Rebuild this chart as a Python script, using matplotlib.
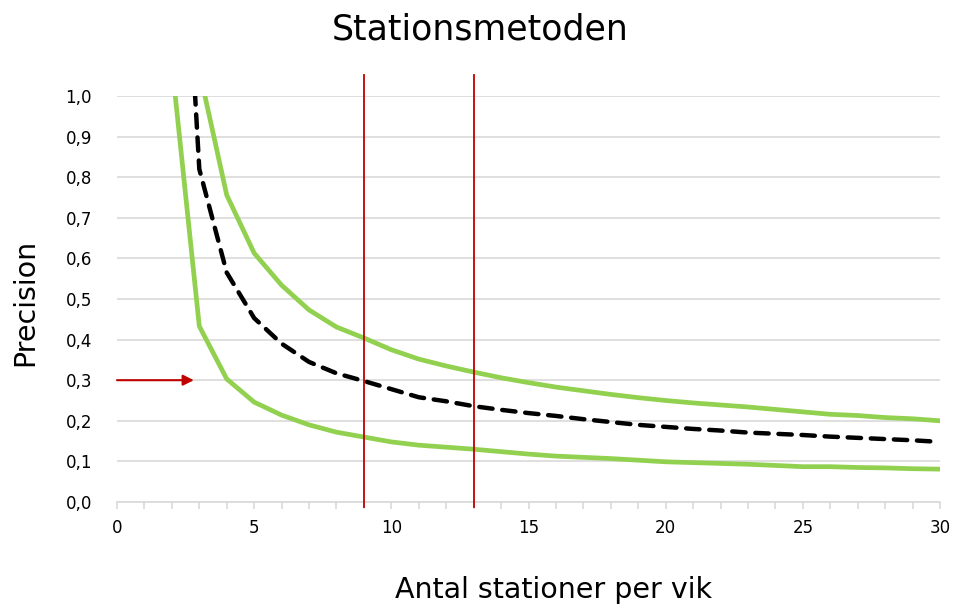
import matplotlib
matplotlib.use("Agg")
import matplotlib.pyplot as plt
from matplotlib.ticker import MultipleLocator, FuncFormatter

# Data
x_lower = [2, 3, 4, 5, 6, 7, 8, 9, 10, 11, 12, 13, 14, 15, 16, 17, 18, 19, 20,
           21, 22, 23, 24, 25, 26, 27, 28, 29, 30]
lower = [1.08, 0.433, 0.303, 0.246, 0.214, 0.19, 0.172, 0.16, 0.148, 0.14, 0.135,
         0.13, 0.124, 0.118, 0.113, 0.11, 0.107, 0.103, 0.099, 0.097, 0.095,
         0.093, 0.09, 0.087, 0.087, 0.085, 0.084, 0.082, 0.081]
x_upper = [3, 4, 5, 6, 7, 8, 9, 10, 11, 12, 13, 14, 15, 16, 17, 18, 19, 20,
           21, 22, 23, 24, 25, 26, 27, 28, 29, 30]
upper = [1.063, 0.756, 0.613, 0.534, 0.473, 0.431, 0.404, 0.375, 0.352, 0.335,
         0.32, 0.306, 0.294, 0.283, 0.274, 0.265, 0.257, 0.25, 0.244, 0.239,
         0.234, 0.228, 0.222, 0.216, 0.213, 0.208, 0.205, 0.2]
x_mean = [2, 3, 4, 5, 6, 7, 8, 9, 10, 11, 12, 13, 14, 15, 16, 17, 18, 19, 20,
          21, 22, 23, 24, 25, 26, 27, 28, 29, 30]
mean = [2.0, 0.82, 0.565, 0.453, 0.39, 0.345, 0.317, 0.298, 0.278, 0.258, 0.248,
        0.236, 0.227, 0.219, 0.212, 0.204, 0.197, 0.19, 0.185, 0.18, 0.176,
        0.171, 0.168, 0.165, 0.161, 0.158, 0.155, 0.152, 0.148]
vlines_x = [9, 13]
arrow_y = 0.3
arrow_x_end = 2.8

title = "Stationsmetoden"
xlabel = "Antal stationer per vik"
ylabel = "Precision"

plt.rcParams['font.family'] = ['DejaVu Sans']

fig = plt.figure(figsize=(9.55, 6.08), dpi=100)
ax = fig.add_axes([117/955, 1-502/608, (940-117)/955, (502-96)/608])

green = '#92D050'
ax.plot(x_lower, lower, color=green, lw=3.4, zorder=3, solid_joinstyle='round')
ax.plot(x_upper, upper, color=green, lw=3.4, zorder=3, solid_joinstyle='round')
ax.plot(x_mean, mean, color='black', lw=3.2, zorder=4, dashes=(3.0, 2.2),
        dash_capstyle='round')

for xv in vlines_x:
    ax.plot([xv, xv], [-0.013, 1.052], color='#C00000', lw=1.3, clip_on=False, zorder=5)

ax.annotate('', xy=(arrow_x_end, arrow_y), xytext=(0, arrow_y),
            arrowprops=dict(arrowstyle='-|>', color='#C00000', lw=1.5,
                            mutation_scale=16, shrinkA=0, shrinkB=0), zorder=5)

ax.set_xlim(0, 30)
ax.set_ylim(0, 1.0)
ax.xaxis.set_major_locator(MultipleLocator(5))
ax.xaxis.set_minor_locator(MultipleLocator(1))
ax.yaxis.set_major_locator(MultipleLocator(0.1))
ax.yaxis.set_major_formatter(FuncFormatter(lambda v, p: f"{v:.1f}".replace('.', ',')))

ax.grid(axis='y', color='#D9D9D9', lw=1.2, zorder=0)
for s in ['top', 'right', 'left']:
    ax.spines[s].set_visible(False)
ax.spines['bottom'].set_color('#D9D9D9')
ax.spines['bottom'].set_linewidth(1.2)
ax.tick_params(axis='x', which='both', length=5, width=1.2, color='#D9D9D9',
               labelsize=12, labelcolor='black', pad=7)
ax.tick_params(axis='y', length=0, labelsize=12, labelcolor='black', pad=18)

fig.text(0.503, 0.951, title, ha='center', va='center', fontsize=25)
fig.text(0.58, 0.029, xlabel, ha='center', va='center', fontsize=20.5)
fig.text(0.026, 0.502, ylabel, ha='center', va='center', rotation=90, fontsize=20.5)

fig.savefig('out.png', dpi=100)
